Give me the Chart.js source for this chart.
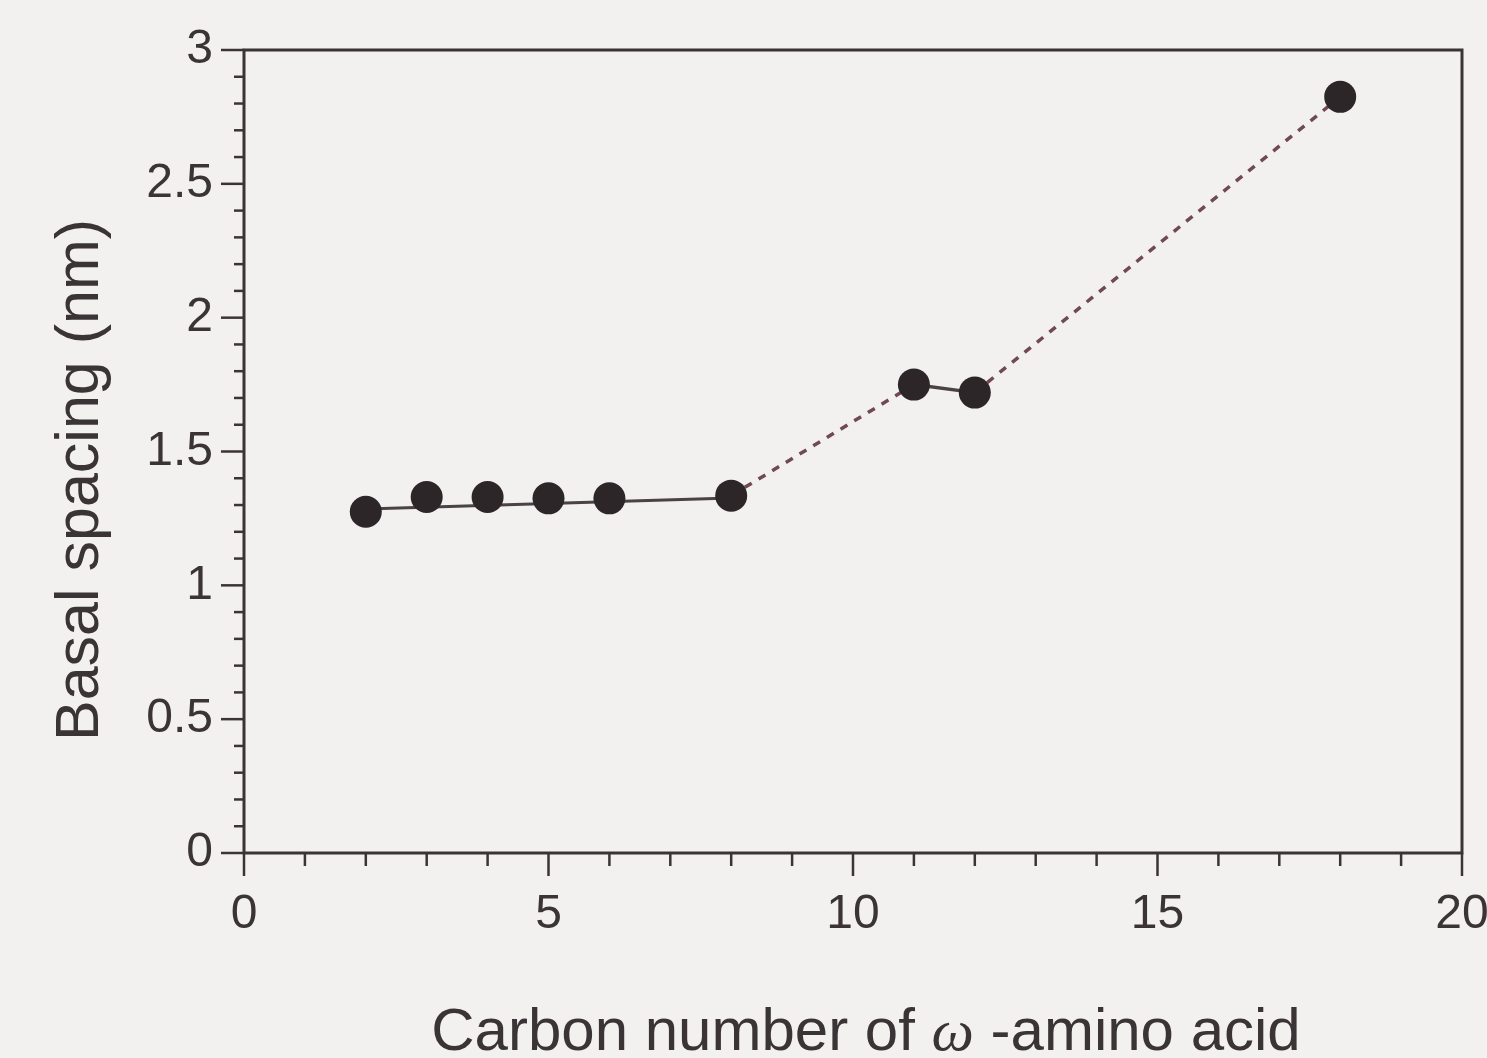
<!DOCTYPE html>
<html><head><meta charset="utf-8">
<script src="https://cdn.jsdelivr.net/npm/chart.js@4/dist/chart.umd.min.js"></script>
<style>html,body{margin:0;padding:0;background:#f3f0f0;overflow:hidden}</style>
</head><body><canvas id="c" width="1487" height="1058"></canvas>
<script>
// ---- data ----
const carbonNumbers = [2, 3, 4, 5, 6, 8, 11, 12, 18];
const basalSpacing  = [1.275, 1.33, 1.33, 1.325, 1.325, 1.335, 1.75, 1.72, 2.825];
const fitX = [2, 8];
const fitY = [1.285, 1.326];
const linkX = [8, 11, 12, 18];
const linkY = [1.335, 1.75, 1.72, 2.825];
const xTickLabels = ['0', '5', '10', '15', '20'];
const yTickLabels = ['0', '0.5', '1', '1.5', '2', '2.5', '3'];
const xTitleParts = ['Carbon number of ', 'ω', ' -amino acid'];
const yTitle = 'Basal spacing (nm)';

const INK = '#3b3436';
const SANS = '"Liberation Sans", Arial, Helvetica, sans-serif';

const toPts = (xs, ys) => xs.map((x, i) => ({x, y: ys[i]}));

const framePlugin = {
  id: 'frame',
  beforeDraw(chart) {
    const {ctx} = chart;
    ctx.save();
    ctx.fillStyle = '#f3f0f0';
    ctx.fillRect(0, 0, chart.width, chart.height);
    ctx.restore();
  },
  beforeDatasetsDraw(chart) {
    const {ctx, chartArea: a, scales: {x, y}} = chart;
    ctx.save();
    ctx.strokeStyle = INK;
    ctx.lineWidth = 3;
    ctx.lineCap = 'butt';
    ctx.strokeRect(a.left, a.top, a.right - a.left, a.bottom - a.top);
    ctx.lineWidth = 2.5;
    for (let v = x.min; v <= x.max + 1e-9; v += 1) {
      const px = x.getPixelForValue(v);
      const major = Math.abs(v % 5) < 1e-9;
      ctx.beginPath();
      ctx.moveTo(px, a.bottom);
      ctx.lineTo(px, a.bottom + (major ? 23 : 13));
      ctx.stroke();
    }
    for (let k = 0; k <= 30; k++) {
      const v = k / 10;
      const py = y.getPixelForValue(v);
      const major = k % 5 === 0;
      ctx.beginPath();
      ctx.moveTo(a.left, py);
      ctx.lineTo(a.left - (major ? 23 : 10), py);
      ctx.stroke();
    }
    ctx.restore();
  },
  afterDraw(chart) {
    const {ctx} = chart;
    ctx.save();
    ctx.fillStyle = INK;
    ctx.textBaseline = 'alphabetic';
    const fonts = [`60px ${SANS}`, `italic 60px "Liberation Serif", "Times New Roman", serif`, `60px ${SANS}`];
    const widths = xTitleParts.map((t, i) => { ctx.font = fonts[i]; return ctx.measureText(t).width; });
    const total = widths.reduce((s, w) => s + w, 0);
    let xx = 866 - total / 2;
    xTitleParts.forEach((t, i) => {
      ctx.font = fonts[i];
      ctx.textAlign = 'left';
      ctx.fillText(t, xx, 1050);
      xx += widths[i];
    });
    ctx.translate(98, 480);
    ctx.rotate(-Math.PI / 2);
    ctx.font = `61px ${SANS}`;
    ctx.textAlign = 'center';
    ctx.fillText(yTitle, 0, 0);
    ctx.restore();
  }
};

new Chart(document.getElementById('c'), {
  type: 'scatter',
  data: {
    datasets: [
      {
        label: 'Basal spacing',
        data: toPts(carbonNumbers, basalSpacing),
        pointRadius: 16,
        pointBackgroundColor: '#2d2628',
        pointBorderWidth: 0,
        showLine: false
      },
      {
        label: 'fit',
        data: toPts(fitX, fitY),
        showLine: true,
        pointRadius: 0,
        borderColor: '#4a4245',
        borderWidth: 3
      },
      {
        label: 'link',
        data: toPts(linkX, linkY),
        showLine: true,
        pointRadius: 0,
        borderWidth: 3.5,
        borderColor: '#6f4a53',
        segment: {
          borderDash: c => c.p0DataIndex === 1 ? [] : [8, 8],
          borderColor: c => c.p0DataIndex === 1 ? '#4a4245' : '#6f4a53'
        }
      }
    ]
  },
  options: {
    responsive: false,
    animation: false,
    devicePixelRatio: 1,
    layout: {padding: {left: 0, right: 25, top: 50, bottom: 0}},
    plugins: {legend: {display: false}, tooltip: {enabled: false}},
    scales: {
      x: {
        type: 'linear', min: 0, max: 20,
        border: {display: false},
        grid: {display: false, drawTicks: false},
        ticks: {
          stepSize: 5, padding: 33, color: INK,
          font: {family: SANS, size: 48},
          callback: (v, i) => xTickLabels[i]
        },
        afterFit: s => { s.height = 205; s.paddingLeft = 0; s.paddingRight = 0; }
      },
      y: {
        type: 'linear', min: 0, max: 3,
        border: {display: false},
        grid: {display: false, drawTicks: false},
        ticks: {
          stepSize: 0.5, padding: 31, color: INK,
          font: {family: SANS, size: 48},
          callback: (v, i) => yTickLabels[i]
        },
        afterFit: s => { s.width = 244; s.paddingTop = 0; s.paddingBottom = 0; }
      }
    }
  },
  plugins: [framePlugin]
});
</script>
</body></html>
